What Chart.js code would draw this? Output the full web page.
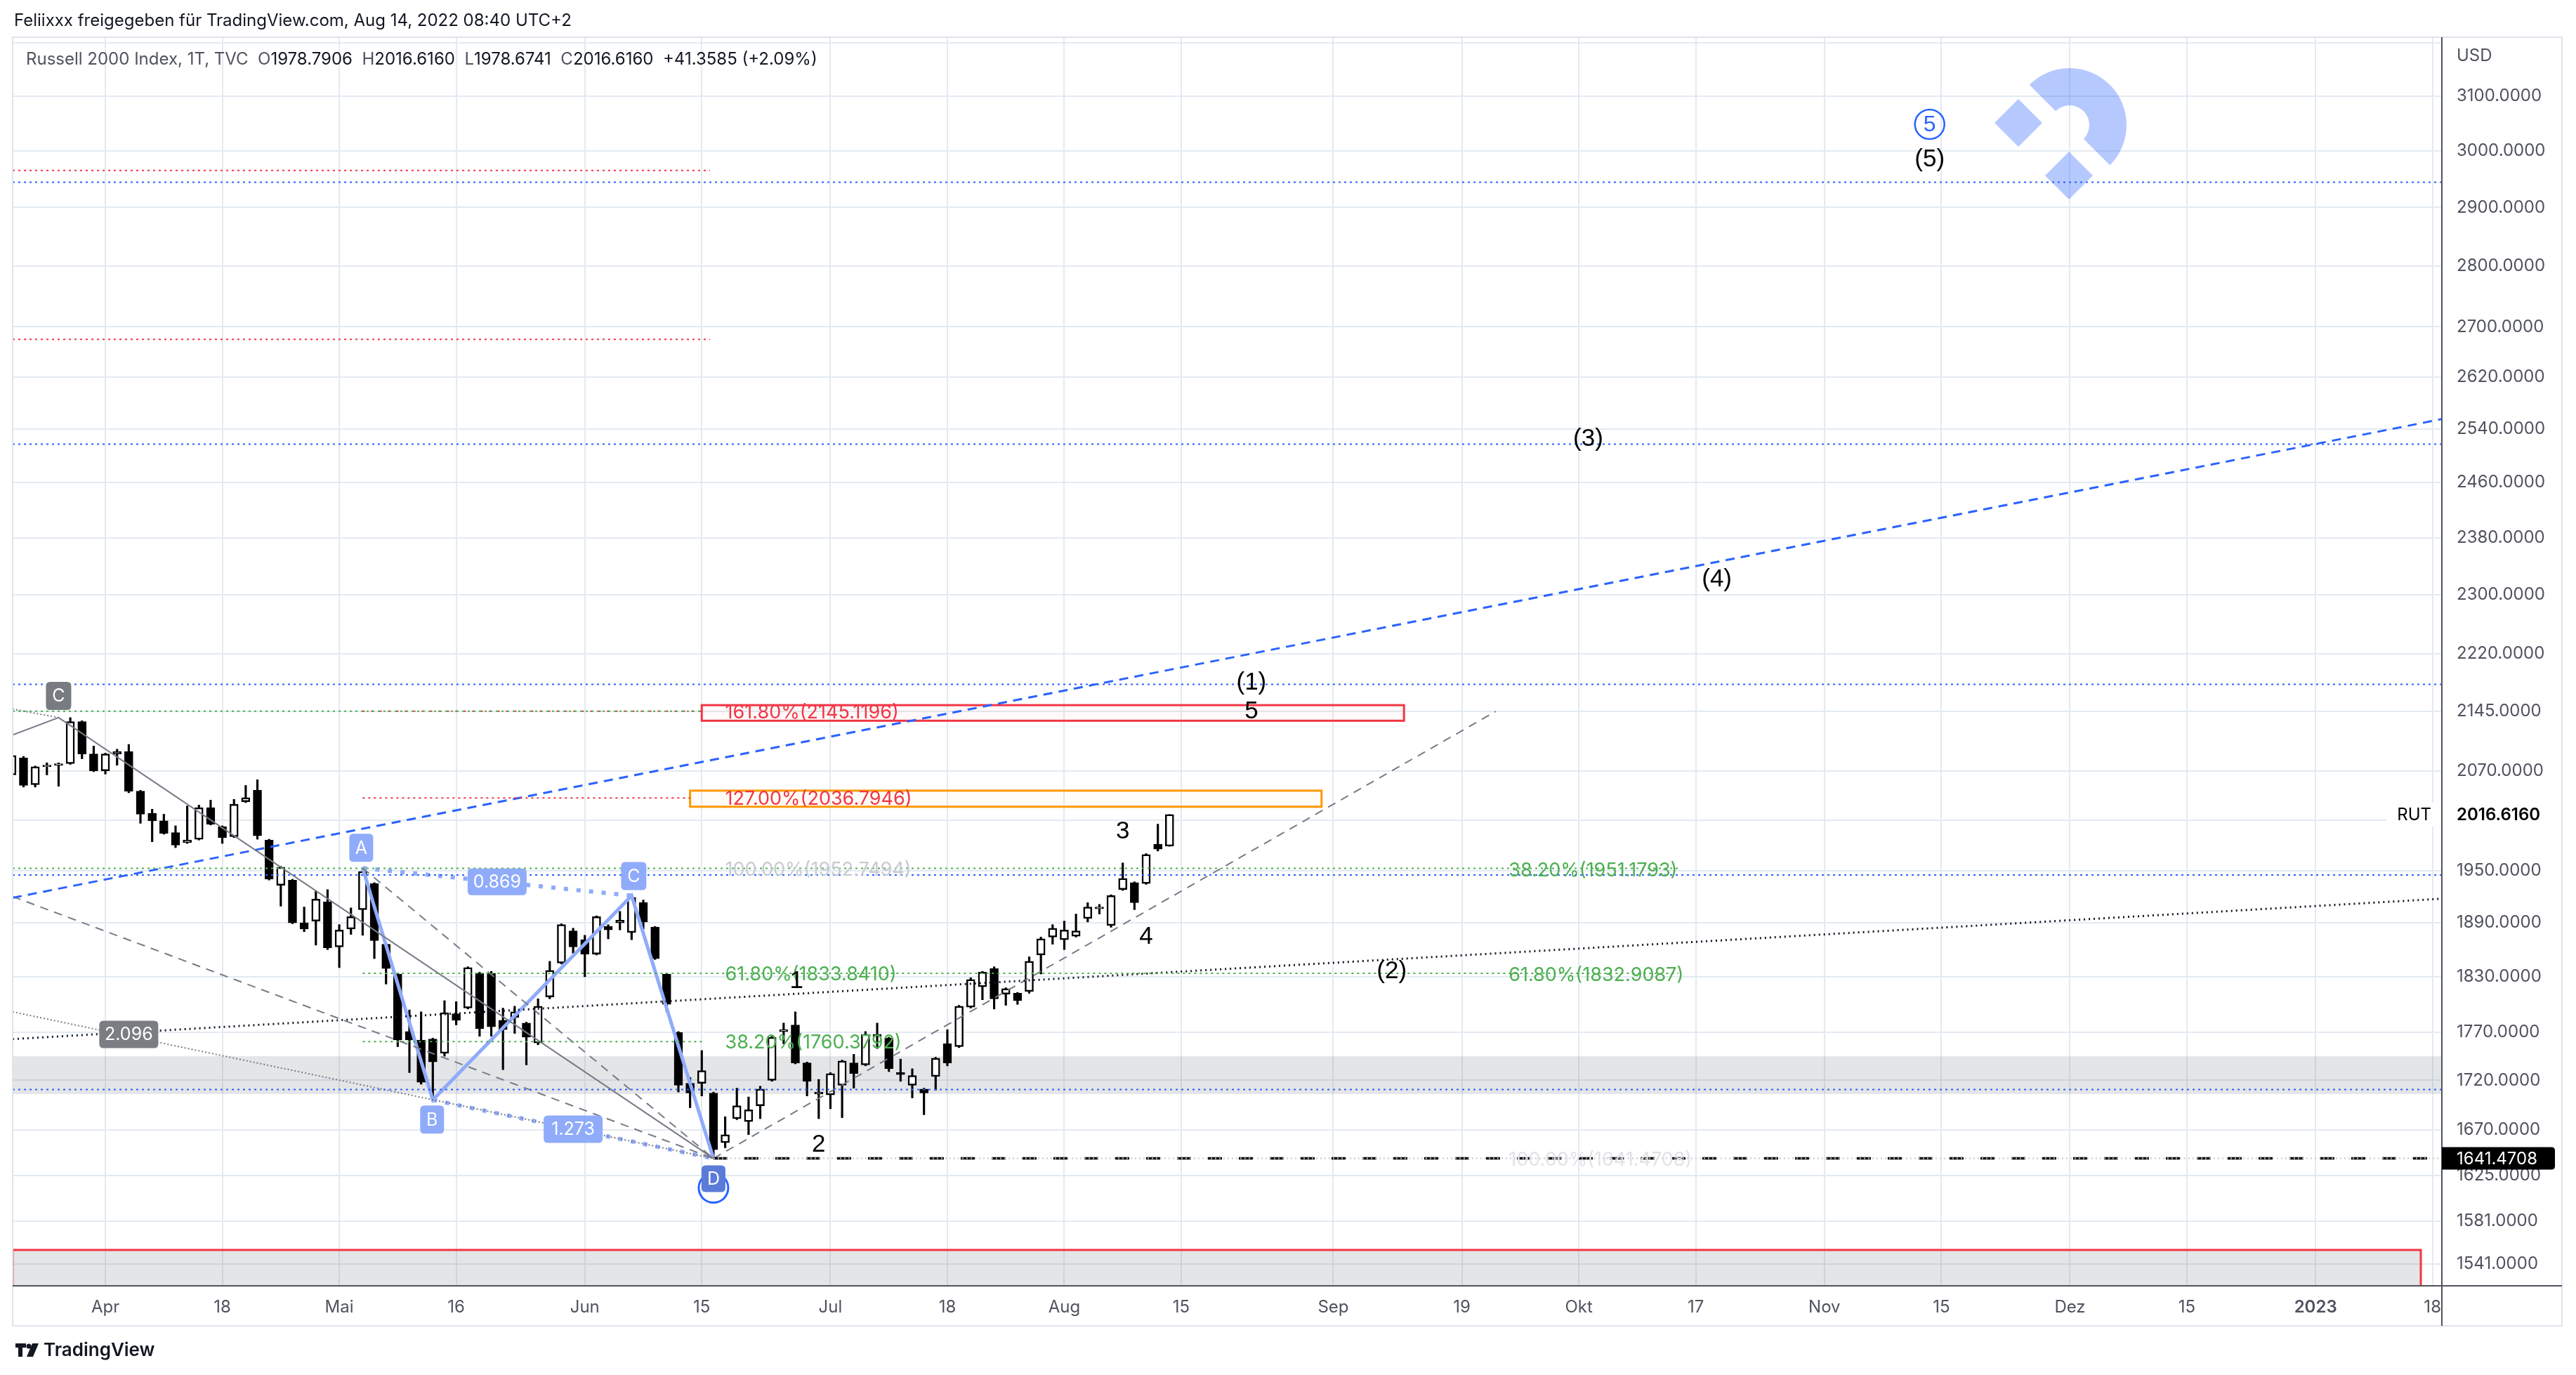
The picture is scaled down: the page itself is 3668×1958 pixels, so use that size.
<!DOCTYPE html>
<html>
<head>
<meta charset="utf-8">
<script src="https://cdn.jsdelivr.net/npm/chart.js@4.4.1/dist/chart.umd.min.js"></script>
<style>
  html, body { margin: 0; padding: 0; background: #ffffff; }
  canvas { display: block; }
</style>
</head>
<body>
<canvas id="rutChart" width="3668" height="1958" style="width:3668px;height:1958px"></canvas>
<script>
// ---- data ----
const dates = [
  '2022-03-22','2022-03-23','2022-03-24','2022-03-25','2022-03-28','2022-03-29','2022-03-30','2022-03-31',
  '2022-04-01','2022-04-04','2022-04-05','2022-04-06','2022-04-07','2022-04-08','2022-04-11','2022-04-12','2022-04-13','2022-04-14',
  '2022-04-18','2022-04-19','2022-04-20','2022-04-21','2022-04-22','2022-04-25','2022-04-26','2022-04-27','2022-04-28','2022-04-29',
  '2022-05-02','2022-05-03','2022-05-04','2022-05-05','2022-05-06','2022-05-09','2022-05-10','2022-05-11','2022-05-12','2022-05-13',
  '2022-05-16','2022-05-17','2022-05-18','2022-05-19','2022-05-20','2022-05-23','2022-05-24','2022-05-25','2022-05-26','2022-05-27',
  '2022-05-31','2022-06-01','2022-06-02','2022-06-03','2022-06-06','2022-06-07','2022-06-08','2022-06-09','2022-06-10',
  '2022-06-13','2022-06-14','2022-06-15','2022-06-16','2022-06-17','2022-06-21','2022-06-22','2022-06-23','2022-06-24',
  '2022-06-27','2022-06-28','2022-06-29','2022-06-30','2022-07-01','2022-07-05','2022-07-06','2022-07-07','2022-07-08',
  '2022-07-11','2022-07-12','2022-07-13','2022-07-14','2022-07-15','2022-07-18','2022-07-19','2022-07-20','2022-07-21','2022-07-22',
  '2022-07-25','2022-07-26','2022-07-27','2022-07-28','2022-07-29','2022-08-01','2022-08-02','2022-08-03','2022-08-04','2022-08-05',
  '2022-08-08','2022-08-09','2022-08-10','2022-08-11','2022-08-12'
];
const opens = [
  2065, 2086, 2053, 2075, 2077, 2079, 2132, 2091, 2070, 2091,
  2094, 2045, 2018, 2009, 1995, 1983, 1987, 2025, 2002, 1990,
  2032, 2046, 1986, 1933, 1939, 1890, 1892, 1914, 1863, 1883,
  1905, 1935, 1866, 1833, 1771, 1762, 1763, 1748, 1790, 1796,
  1834, 1834, 1783, 1786, 1780, 1759, 1808, 1845, 1881, 1871,
  1855, 1886, 1890, 1879, 1913, 1885, 1833, 1770, 1717, 1717,
  1707, 1657, 1681, 1678, 1694, 1720, 1771, 1778, 1738, 1706,
  1705, 1715, 1738, 1736, 1766, 1764, 1728, 1715, 1711, 1724,
  1758, 1755, 1797, 1819, 1839, 1811, 1812, 1814, 1854, 1874,
  1871, 1875, 1895, 1906, 1887, 1928, 1936, 1935, 1981, 1978.7906
];
const highs = [
  2092, 2088, 2076, 2080, 2080, 2137, 2133, 2101, 2092, 2097,
  2103, 2046, 2023, 2017, 2003, 2027, 2028, 2034, 2003, 2035,
  2052, 2059, 1987, 1955, 1940, 1908, 1926, 1928, 1888, 1907,
  1953, 1936, 1867, 1834, 1794, 1792, 1764, 1804, 1803, 1841,
  1835, 1836, 1796, 1798, 1781, 1806, 1847, 1889, 1884, 1876,
  1898, 1888, 1903, 1921, 1916, 1886, 1834, 1771, 1723, 1751,
  1708, 1683, 1712, 1703, 1714, 1766, 1780, 1792, 1739, 1721,
  1728, 1741, 1747, 1771, 1780, 1765, 1742, 1732, 1712, 1744,
  1773, 1799, 1829, 1836, 1841, 1818, 1813, 1852, 1874, 1888,
  1892, 1900, 1913, 1911, 1922, 1959, 1937, 1970, 2005, 2016.616
];
const lows = [
  2060, 2050, 2050, 2065, 2051, 2078, 2085, 2069, 2066, 2077,
  2043, 2006, 1984, 1993, 1977, 1982, 1986, 2004, 1982, 1989,
  2031, 1987, 1939, 1909, 1889, 1880, 1865, 1860, 1840, 1877,
  1876, 1850, 1822, 1755, 1728, 1716, 1700, 1745, 1778, 1795,
  1766, 1766, 1731, 1769, 1736, 1757, 1806, 1844, 1856, 1830,
  1854, 1872, 1882, 1871, 1883, 1849, 1792, 1708, 1692, 1704,
  1641.4708, 1652, 1680, 1665, 1681, 1719, 1758, 1737, 1704, 1681,
  1691, 1682, 1712, 1735, 1753, 1729, 1719, 1702, 1685, 1710,
  1735, 1754, 1796, 1805, 1795, 1799, 1800, 1812, 1833, 1866,
  1860, 1874, 1891, 1900, 1885, 1927, 1905, 1934, 1973, 1978.6741
];
const closes = [
  2089, 2052, 2075, 2077, 2078, 2132, 2091, 2070, 2091, 2094,
  2045, 2017, 2009, 1994, 1980, 1986, 2025, 2005, 1989, 2029,
  2037, 1991, 1940, 1954, 1890, 1883, 1917, 1862, 1882, 1897,
  1949, 1870, 1839, 1762, 1762, 1718, 1739, 1791, 1783, 1840,
  1774, 1776, 1773, 1792, 1765, 1798, 1837, 1888, 1863, 1855,
  1897, 1882, 1893, 1919, 1891, 1850, 1800, 1715, 1707, 1730,
  1650, 1665, 1694, 1690, 1711, 1765, 1773, 1738, 1719, 1708,
  1727, 1740, 1727, 1768, 1768, 1732, 1726, 1725, 1707, 1743,
  1738, 1798, 1827, 1835, 1806, 1817, 1804, 1847, 1872, 1884,
  1882, 1881, 1908, 1908, 1921, 1941, 1913, 1969, 1975.2575, 2016.616
];
const holidays = ['2022-04-15','2022-05-30','2022-06-20','2022-07-04','2022-09-05','2022-11-24','2022-12-26','2023-01-02','2023-01-16'];
const xTickDates = ['2022-04-01','2022-04-18','2022-05-02','2022-05-16','2022-06-01','2022-06-15','2022-07-01','2022-07-18','2022-08-01',
  '2022-08-15','2022-09-01','2022-09-19','2022-10-03','2022-10-17','2022-11-01','2022-11-15','2022-12-01','2022-12-15','2023-01-03','2023-01-18'];
const xTickLabels = ['Apr','18','Mai','16','Jun','15','Jul','18','Aug','15','Sep','19','Okt','17','Nov','15','Dez','15','2023','18'];
const yTicks = [1541,1581,1625,1670,1720,1770,1830,1890,1950,2010,2070,2145,2220,2300,2380,2460,2540,2620,2700,2800,2900,3000,3100,3200];

const lastClose = 2016.616;
const lowMark = 1641.4708;

// ---- bar index on a trading-day axis ----
const ORIGIN = '2022-04-01';
function tradingDay(d) {
  const wd = d.getUTCDay();
  return wd !== 0 && wd !== 6 && !holidays.includes(d.toISOString().slice(0, 10));
}
function barIndex(s) {
  const t = new Date(s + 'T00:00:00Z');
  const d = new Date(ORIGIN + 'T00:00:00Z');
  const step = t >= d ? 1 : -1;
  let n = 0;
  while (d.getTime() !== t.getTime()) {
    d.setUTCDate(d.getUTCDate() + step);
    if (tradingDay(d)) n += step;
  }
  return n;
}

// visible window
const X_MIN = -7.93, X_MAX = 199.8;
const Y_MIN = 1521, Y_MAX = 3211;

// ---- drawings (anchored in bar / price space) ----
const A = [barIndex('2022-05-04'), 1953];
const B = [barIndex('2022-05-12'), 1700];
const C = [barIndex('2022-06-07'), 1921];
const D = [barIndex('2022-06-16'), lowMark];
const C0 = [barIndex('2022-03-28'), 2137];

function seg(points, color, width, dash, order) {
  return {
    type: 'line',
    data: points.map(p => ({ x: p[0], y: p[1] })),
    borderColor: color,
    borderWidth: width,
    borderDash: dash || [],
    pointRadius: 0,
    fill: false,
    tension: 0,
    order: order === undefined ? -1 : order
  };
}
const BLUE = '#2962ff', GREEN = '#4caf50', RED = '#f23645', GRAY = '#787b86', HARM = '#8fabfa';
const DOT = [3, 5];

const drawingSets = [
  // horizontal levels
  ...[2944, 2517, 2180, 1945, 1710.5].map(p => seg([[X_MIN, p], [X_MAX, p]], BLUE, 2, DOT)),
  ...[2965, 2680].map(p => seg([[X_MIN, p], [51.7, p]], RED, 2, DOT)),
  seg([[X_MIN, 2145.1196], [51, 2145.1196]], GREEN, 2, DOT),
  seg([[22, 2145.1196], [51, 2145.1196]], RED, 2, [3, 9]),
  seg([[22, 2036.7946], [50, 2036.7946]], RED, 2, DOT),
  seg([[X_MIN, 1952.7494], [134.5, 1952.7494]], GREEN, 2, DOT),
  seg([[22, 1833.841], [134.5, 1833.841]], GREEN, 2, DOT),
  seg([[22, 1760.3792], [51, 1760.3792]], GREEN, 2, DOT),
  seg([[D[0], lowMark], [X_MAX, lowMark]], '#c3c5cc', 2, [2, 4]),
  seg([[D[0], lowMark], [X_MAX, lowMark]], '#000000', 3.5, [20, 24]),
  // trend lines
  seg([[X_MIN, 1918.6], [X_MAX, 2555]], BLUE, 3, [13, 9]),
  seg([[X_MIN, 1763], [X_MAX, 1917.5]], '#131722', 3, [2, 5]),
  seg([[X_MIN, 1920], D], GRAY, 2, [12, 9]),
  seg([A, D], GRAY, 2, [12, 9]),
  seg([D, [118.9, 2145]], GRAY, 2, [12, 9]),
  seg([[X_MIN, 1792], D], GRAY, 2, [2, 3]),
  seg([[X_MIN, 2148], C0], GRAY, 2, [2, 3]),
  seg([[X_MIN, 2115], C0, D], GRAY, 2, []),
  // harmonic ABCD
  seg([A, C], HARM, 6, [6, 12]),
  seg([B, D], HARM, 6, [6, 12]),
  seg([A, B, C, D], HARM, 5, [])
];

const zones = [
  { x0: X_MIN, x1: X_MAX, p0: 1745, p1: 1706, fill: 'rgba(120,123,134,0.2)', stroke: null },
  { x0: X_MIN, x1: 198, p0: 1554, p1: 1400, fill: 'rgba(120,123,134,0.2)', stroke: RED },
  { x0: 51, x1: 111.05, p0: 2153, p1: 2133, fill: 'rgba(242,54,69,0.03)', stroke: RED },
  { x0: 50, x1: 104, p0: 2045.6, p1: 2026, fill: 'rgba(255,152,0,0.03)', stroke: '#ff9800' }
];

const fibTexts = [
  ['161.80%(2145.1196)', 53, 2145.1196, RED],
  ['127.00%(2036.7946)', 53, 2036.7946, RED],
  ['100.00%(1952.7494)', 53, 1952.7494, '#c9cbd1'],
  ['61.80%(1833.8410)', 53, 1833.841, GREEN],
  ['38.20%(1760.3792)', 53, 1760.3792, GREEN],
  ['38.20%(1951.1793)', 120, 1951.1793, GREEN],
  ['61.80%(1832.9087)', 120, 1832.9087, GREEN],
  ['100.00%(1641.4708)', 120, lowMark, '#e2e3e7']
];

const waveTexts = [
  ['(1)', 98, 2182], ['5', 98, 2145], ['(2)', 110, 1836], ['(3)', 126.8, 2525],
  ['(4)', 137.8, 2321], ['(5)', 156, 2984],
  ['1', 59.1, 1825], ['2', 61, 1655], ['3', 87, 1996], ['4', 89, 1874]
];
const circledFive = [156, 3048];

// ---- helpers ----
function rrect(ctx, x, y, w, h, r) {
  const rr = Array.isArray(r) ? r : [r, r, r, r];
  ctx.beginPath();
  ctx.moveTo(x + rr[0], y);
  ctx.lineTo(x + w - rr[1], y);
  ctx.quadraticCurveTo(x + w, y, x + w, y + rr[1]);
  ctx.lineTo(x + w, y + h - rr[2]);
  ctx.quadraticCurveTo(x + w, y + h, x + w - rr[2], y + h);
  ctx.lineTo(x + rr[3], y + h);
  ctx.quadraticCurveTo(x, y + h, x, y + h - rr[3]);
  ctx.lineTo(x, y + rr[0]);
  ctx.quadraticCurveTo(x, y, x + rr[0], y);
  ctx.closePath();
}
function tag(ctx, text, cx, cy, w, h, bg, fg) {
  ctx.fillStyle = bg;
  rrect(ctx, cx - w / 2, cy - h / 2, w, h, 6);
  ctx.fill();
  ctx.fillStyle = fg;
  ctx.font = '25px Inter';
  ctx.textAlign = 'center';
  ctx.textBaseline = 'middle';
  ctx.fillText(text, cx, cy + 1);
}
function diamond(ctx, cx, cy, r) {
  ctx.beginPath();
  ctx.moveTo(cx, cy - r); ctx.lineTo(cx + r, cy); ctx.lineTo(cx, cy + r); ctx.lineTo(cx - r, cy);
  ctx.closePath(); ctx.fill();
}

const drawings = {
  id: 'drawings',
  beforeDatasetsDraw(chart) {
    const { ctx, chartArea: a, scales: { x, y } } = chart;
    ctx.save();
    ctx.beginPath(); ctx.rect(a.left, a.top, a.right - a.left, a.bottom - a.top); ctx.clip();
    zones.forEach(z => {
      const x0 = x.getPixelForValue(z.x0), x1 = x.getPixelForValue(z.x1);
      const y0 = y.getPixelForValue(z.p0), y1 = y.getPixelForValue(z.p1);
      ctx.fillStyle = z.fill;
      ctx.fillRect(x0, y0, x1 - x0, y1 - y0);
      if (z.stroke) {
        ctx.strokeStyle = z.stroke; ctx.lineWidth = 3;
        ctx.strokeRect(x0, y0, x1 - x0, y1 - y0);
      }
    });
    ctx.restore();
  },
  afterDatasetsDraw(chart) {
    const { ctx, chartArea: a, scales: { x, y } } = chart;
    const P = p => [x.getPixelForValue(p[0]), y.getPixelForValue(p[1])];
    ctx.save();
    ctx.beginPath(); ctx.rect(a.left, a.top, a.right - a.left, a.bottom - a.top); ctx.clip();

    // fib labels
    ctx.font = '27px Inter';
    ctx.textAlign = 'left'; ctx.textBaseline = 'middle';
    fibTexts.forEach(([t, i, p, c]) => {
      ctx.fillStyle = c;
      ctx.fillText(t, x.getPixelForValue(i), y.getPixelForValue(p) + 2);
    });

    // wave counts
    ctx.font = '35px "Liberation Sans"';
    ctx.textAlign = 'center';
    ctx.fillStyle = '#000000';
    waveTexts.forEach(([t, i, p]) => ctx.fillText(t, x.getPixelForValue(i), y.getPixelForValue(p)));
    const [fx, fy] = P(circledFive);
    ctx.strokeStyle = BLUE; ctx.lineWidth = 2.5;
    ctx.beginPath(); ctx.arc(fx, fy, 21, 0, Math.PI * 2); ctx.stroke();
    ctx.fillStyle = BLUE; ctx.font = '32px "Liberation Sans"';
    ctx.fillText('5', fx, fy + 1);

    // harmonic labels
    const pa = P(A), pb = P(B), pc = P(C), pd = P(D), pc0 = P(C0);
    ctx.strokeStyle = BLUE; ctx.lineWidth = 3;
    ctx.beginPath(); ctx.arc(pd[0], pd[1] + 42, 21, 0, Math.PI * 2); ctx.stroke();
    tag(ctx, 'A', pa[0] - 2, pa[1] - 29, 34, 40, HARM, '#ffffff');
    tag(ctx, 'B', pb[0] - 1, pb[1] + 28, 34, 40, HARM, '#ffffff');
    tag(ctx, 'C', pc[0] + 3, pc[1] - 28, 36, 40, HARM, '#ffffff');
    tag(ctx, 'D', pd[0], pd[1] + 29, 34, 38, '#5a7bd8', '#ffffff');
    tag(ctx, '0.869', (pa[0] + pc[0]) / 2, (pa[1] + pc[1]) / 2, 84, 38, HARM, '#ffffff');
    tag(ctx, '1.273', (pb[0] + pd[0]) / 2, (pb[1] + pd[1]) / 2, 84, 39, HARM, '#ffffff');
    tag(ctx, 'C', pc0[0], pc0[1] - 31, 36, 40, '#787b80', '#ffffff');
    const p2 = P([2, 1768]);
    tag(ctx, '2.096', p2[0], p2[1], 84, 39, '#7b7d82', '#ffffff');

    // watermark
    ctx.fillStyle = 'rgba(41,98,255,0.34)';
    ctx.beginPath();
    ctx.arc(2947, 178, 81, -0.75 * Math.PI, 0.25 * Math.PI);
    ctx.arc(2947, 178, 28, 0.25 * Math.PI, -0.75 * Math.PI, true);
    ctx.closePath(); ctx.fill();
    diamond(ctx, 2874, 175, 34);
    diamond(ctx, 2946, 250, 34);
    ctx.restore();
  },
  afterDraw(chart) {
    const { ctx, chartArea: a, scales: { y } } = chart;
    ctx.save();
    // frame and axis lines
    ctx.strokeStyle = '#e0e3eb'; ctx.lineWidth = 2;
    ctx.strokeRect(a.left, a.top, 3648 - a.left, 1888 - a.top);
    ctx.strokeStyle = '#50535e'; ctx.lineWidth = 2;
    ctx.beginPath();
    ctx.moveTo(a.right, a.top); ctx.lineTo(a.right, 1888);
    ctx.moveTo(a.left, a.bottom); ctx.lineTo(3648, a.bottom);
    ctx.stroke();

    // headers
    ctx.textAlign = 'left'; ctx.textBaseline = 'middle';
    ctx.font = '24px Inter'; ctx.fillStyle = '#131722';
    ctx.fillText('Feliixxx freigegeben für TradingView.com, Aug 14, 2022 08:40 UTC+2', 20, 30);
    const parts = [
      ['Russell 2000 Index, 1T, TVC  ', '#50535e'],
      ['O', '#50535e'], ['1978.7906  ', '#131722'],
      ['H', '#50535e'], ['2016.6160  ', '#131722'],
      ['L', '#50535e'], ['1978.6741  ', '#131722'],
      ['C', '#50535e'], ['2016.6160  ', '#131722'],
      ['+41.3585 (+2.09%)', '#131722']
    ];
    let hx = 37;
    parts.forEach(([t, c]) => { ctx.fillStyle = c; ctx.fillText(t, hx, 85); hx += ctx.measureText(t).width; });

    ctx.fillStyle = '#50535e';
    ctx.fillText('USD', 3498, 80);

    // last price tag
    const yl = y.getPixelForValue(lastClose);
    ctx.fillStyle = '#ffffff';
    ctx.fillRect(3398, yl - 17, a.right - 3399, 34);
    ctx.fillRect(a.right + 1, yl - 17, 162, 34);
    ctx.fillStyle = '#000000';
    ctx.textAlign = 'right';
    ctx.fillText('RUT', 3462, yl + 1);
    ctx.textAlign = 'left';
    ctx.font = '600 24px Inter';
    ctx.fillText('2016.6160', 3498, yl + 1);

    // low price tag
    const ym = y.getPixelForValue(lowMark);
    ctx.fillStyle = '#000000';
    rrect(ctx, a.right, ym - 16, 161, 32, [0, 5, 5, 0]);
    ctx.fill();
    ctx.fillStyle = '#ffffff';
    ctx.font = '24px Inter';
    ctx.fillText('1641.4708', 3498, ym + 1);

    // bottom logo
    ctx.fillStyle = '#131722';
    ctx.fillRect(22, 1913, 15, 6);
    ctx.fillRect(26, 1913, 6, 19);
    ctx.beginPath(); ctx.arc(41, 1917, 3.5, 0, Math.PI * 2); ctx.fill();
    ctx.beginPath();
    ctx.moveTo(46, 1913); ctx.lineTo(55, 1913); ctx.lineTo(47, 1932); ctx.lineTo(38, 1932);
    ctx.closePath(); ctx.fill();
    ctx.font = '600 26px Inter';
    ctx.fillText('TradingView', 62, 1923);
    ctx.restore();
  }
};

// ---- candles ----
const xs = dates.map(barIndex);
const bodyColors = closes.map((c, i) => (c >= opens[i] ? '#ffffff' : '#000000'));

const tickLabelAt = {};
xTickDates.forEach((d, i) => { tickLabelAt[barIndex(d)] = xTickLabels[i]; });

new Chart(document.getElementById('rutChart'), {
  type: 'bar',
  data: {
    datasets: [
      {
        label: 'bodies',
        data: xs.map((v, i) => ({ x: v, y: [opens[i], closes[i]] })),
        backgroundColor: bodyColors,
        borderColor: '#000000',
        borderWidth: 2.5,
        borderSkipped: false,
        barThickness: 12,
        minBarLength: 2,
        grouped: false,
        order: 0
      },
      {
        label: 'wicks',
        data: xs.map((v, i) => ({ x: v, y: [lows[i], highs[i]] })),
        backgroundColor: '#000000',
        borderWidth: 0,
        barThickness: 2.5,
        grouped: false,
        order: 1
      },
      ...drawingSets
    ]
  },
  options: {
    responsive: false,
    animation: false,
    devicePixelRatio: 1,
    layout: { padding: { left: 18, right: 20, top: 53, bottom: 70 } },
    plugins: { legend: { display: false }, tooltip: { enabled: false } },
    scales: {
      x: {
        type: 'linear',
        min: X_MIN,
        max: X_MAX,
        offset: false,
        grid: { offset: false, color: '#e3eaf1', lineWidth: 2, drawTicks: false },
        border: { color: '#50535e', width: 2 },
        afterBuildTicks: s => { s.ticks = xTickDates.map(d => ({ value: barIndex(d) })); },
        afterFit: s => { s.height = 57; },
        ticks: {
          autoSkip: false,
          maxRotation: 0,
          padding: 16,
          color: '#50535e',
          font: c => ({ family: 'Inter', size: 24, weight: c.tick && c.tick.label === '2023' ? '600' : '400' }),
          callback: v => tickLabelAt[v] || ''
        }
      },
      y: {
        type: 'logarithmic',
        position: 'right',
        min: Y_MIN,
        max: Y_MAX,
        grid: { color: '#e3eaf1', lineWidth: 2, drawTicks: false },
        border: { color: '#50535e', width: 2 },
        afterBuildTicks: s => { s.ticks = yTicks.map(v => ({ value: v })); },
        afterFit: s => { s.width = 171; },
        ticks: {
          autoSkip: false,
          padding: 21,
          crossAlign: 'near',
          color: '#50535e',
          font: { family: 'Inter', size: 24 },
          callback: v => (v === 3200 ? '' : Number(v).toFixed(4))
        }
      }
    }
  },
  plugins: [drawings]
});
</script>
</body>
</html>
